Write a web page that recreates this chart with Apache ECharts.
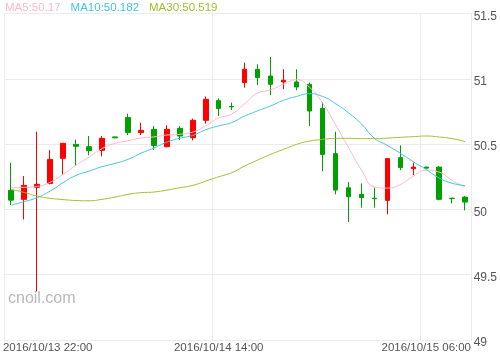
<!DOCTYPE html>
<html>
<head>
<meta charset="utf-8">
<script src="https://cdn.jsdelivr.net/npm/echarts@6/dist/echarts.min.js"></script>
<style>
html,body{margin:0;padding:0;background:#fff;}
#c{width:500px;height:359px;}
</style>
</head>
<body>
<div id="c"></div>
<script>
// categories (hourly)
var categories = [
  '2016/10/13 22:00','2016/10/13 23:00','2016/10/14 00:00','2016/10/14 01:00','2016/10/14 02:00','2016/10/14 03:00',
  '2016/10/14 04:00','2016/10/14 05:00','2016/10/14 06:00','2016/10/14 07:00','2016/10/14 08:00','2016/10/14 09:00',
  '2016/10/14 10:00','2016/10/14 11:00','2016/10/14 12:00','2016/10/14 13:00','2016/10/14 14:00','2016/10/14 15:00',
  '2016/10/14 16:00','2016/10/14 17:00','2016/10/14 18:00','2016/10/14 19:00','2016/10/14 20:00','2016/10/14 21:00',
  '2016/10/14 22:00','2016/10/14 23:00','2016/10/15 00:00','2016/10/15 01:00','2016/10/15 02:00','2016/10/15 03:00',
  '2016/10/15 04:00','2016/10/15 05:00','2016/10/15 06:00','2016/10/15 07:00','2016/10/15 08:00','2016/10/15 09:00'
];
var opens  = [50.146,50.077,50.169,50.199,50.391,50.498,50.480,50.452,50.555,50.703,50.588,50.613,50.480,50.621,50.549,50.682,50.833,50.788,50.971,51.073,51.021,50.976,50.976,50.958,50.774,50.427,50.166,50.115,50.086,50.069,50.396,50.312,50.324,50.324,50.086,50.094];
var closes = [50.071,50.184,50.192,50.383,50.506,50.483,50.450,50.544,50.548,50.588,50.605,50.490,50.613,50.562,50.682,50.843,50.772,50.785,51.073,51.009,50.958,50.989,50.937,50.753,50.421,50.148,50.097,50.090,50.082,50.389,50.320,50.324,50.316,50.077,50.082,50.056];
var lows   = [50.033,49.923,49.372,50.192,50.268,50.332,50.414,50.406,50.545,50.569,50.569,50.454,50.475,50.531,50.529,50.657,50.715,50.761,50.932,50.952,50.875,50.920,50.912,50.638,50.293,50.115,49.903,50.013,50.013,49.962,50.301,50.263,50.314,50.070,50.046,49.992];
var highs  = [50.358,50.255,50.595,50.454,50.510,50.534,50.562,50.562,50.558,50.733,50.664,50.638,50.644,50.638,50.695,50.864,50.851,50.818,51.124,51.111,51.167,51.073,51.073,50.971,50.822,50.595,50.209,50.199,50.166,50.391,50.490,50.358,50.326,50.330,50.088,50.102];
var ma5  = [50.167,50.169,50.176,50.207,50.268,50.340,50.400,50.465,50.506,50.525,50.547,50.555,50.569,50.575,50.592,50.640,50.700,50.730,50.810,50.890,50.915,50.960,50.993,50.935,50.815,50.650,50.475,50.302,50.172,50.163,50.190,50.255,50.300,50.285,50.222,50.170];
var ma10 = [50.033,50.059,50.090,50.140,50.205,50.260,50.293,50.327,50.352,50.383,50.430,50.470,50.515,50.545,50.567,50.610,50.640,50.665,50.715,50.755,50.792,50.836,50.865,50.886,50.865,50.810,50.740,50.655,50.545,50.490,50.430,50.365,50.305,50.240,50.200,50.182];
var ma30 = [50.153,50.130,50.102,50.085,50.075,50.068,50.066,50.077,50.094,50.115,50.128,50.133,50.148,50.166,50.184,50.217,50.250,50.281,50.332,50.378,50.421,50.460,50.498,50.523,50.536,50.544,50.544,50.542,50.542,50.546,50.552,50.557,50.562,50.554,50.542,50.519];
var legendNames = ['MA5','MA10','MA30'];
var legendValues = ['50.17','50.182','50.519'];
var yTicks = [49, 49.5, 50, 50.5, 51, 51.5];

var FONT = '"Liberation Sans", Arial, sans-serif';
var UP = '#ff0000', DOWN = '#00a000';
var C5 = '#fbb9cb', C10 = '#40c6df', C30 = '#a2bd2e';

var kdata = categories.map(function(_, i){ return [opens[i], closes[i], lows[i], highs[i]]; });
var legendMap = {};
legendNames.forEach(function(n,i){ legendMap[n] = legendValues[i]; });

var chart = echarts.init(document.getElementById('c'), null, {renderer:'canvas'});
chart.setOption({
  animation: false,
  backgroundColor: '#fff',
  textStyle: {fontFamily: FONT},
  legend: {
    left: -5, top: -3, itemWidth: 0, itemHeight: 0, itemGap: 5,
    selectedMode: false,
    textStyle: {fontSize: 11.5, fontFamily: FONT},
    formatter: function(n){ return n + ':' + legendMap[n]; },
    data: [
      {name: 'MA5', icon: 'none', textStyle: {color: C5}},
      {name: 'MA10', icon: 'none', textStyle: {color: C10}},
      {name: 'MA30', icon: 'none', textStyle: {color: C30}}
    ]
  },
  graphic: [{
    type: 'text', left: 8, top: 291, silent: true,
    style: {text: 'cnoil.com', fill: '#b8b8b8', font: '16px ' + FONT}
  }],
  grid: {left: 4.5, right: 26, top: 13.5, bottom: 19, containLabel: false},
  xAxis: {
    type: 'category',
    data: categories,
    boundaryGap: true,
    axisLine: {show: false},
    axisTick: {show: false},
    splitLine: {show: true, interval: 15, lineStyle: {color: '#ececec', width: 1}},
    axisLabel: {
      interval: 15, margin: 2, fontSize: 11.5, color: '#555', fontFamily: FONT,
      formatter: function(v, i){ return i === 0 ? '{first|' + v + '}' : v; },
      rich: {first: {padding: [0,0,0,73], fontSize: 11.5, color: '#555', fontFamily: FONT}}
    }
  },
  yAxis: {
    type: 'value', position: 'right',
    min: yTicks[0], max: yTicks[yTicks.length-1], interval: 0.5,
    axisLine: {show: true, lineStyle: {color: '#ececec'}},
    axisTick: {show: false},
    splitLine: {show: true, lineStyle: {color: '#ececec', width: 1}},
    axisLabel: {
      margin: 2, fontSize: 12, color: '#555', fontFamily: FONT,
      formatter: function(v){ return '{t|' + v + '}'; },
      rich: {t: {padding: [6,0,0,0], fontSize: 12, color: '#555', fontFamily: FONT}}
    }
  },
  series: [
    {
      type: 'candlestick', name: 'K', data: kdata, barWidth: 5,
      itemStyle: {color: UP, color0: DOWN, borderColor: UP, borderColor0: DOWN, borderWidth: 1}
    },
    {type: 'line', name: 'MA5', data: ma5, smooth: true, showSymbol: false, lineStyle: {color: C5, width: 1}, itemStyle: {color: C5}},
    {type: 'line', name: 'MA10', data: ma10, smooth: true, showSymbol: false, lineStyle: {color: C10, width: 1}, itemStyle: {color: C10}},
    {type: 'line', name: 'MA30', data: ma30, smooth: true, showSymbol: false, lineStyle: {color: C30, width: 1}, itemStyle: {color: C30}}
  ]
});
</script>
</body>
</html>
